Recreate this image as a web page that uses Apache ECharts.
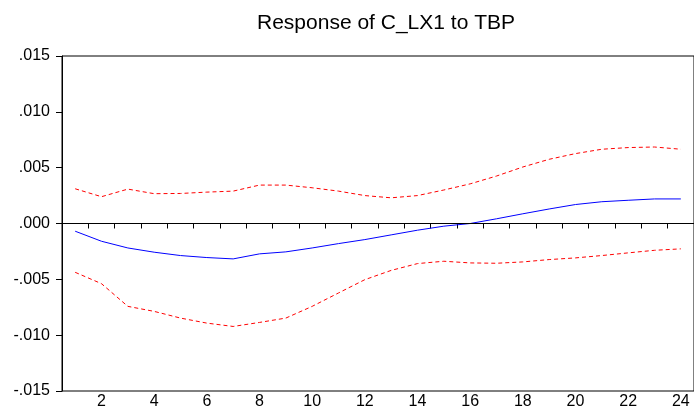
<!DOCTYPE html>
<html>
<head>
<meta charset="utf-8">
<script src="https://cdn.jsdelivr.net/npm/echarts@6/dist/echarts.min.js"></script>
<style>
  html, body { margin: 0; padding: 0; background: #fff; }
  #chart { width: 694px; height: 413px; }
</style>
</head>
<body>
<div id="chart"></div>
<script>
// periods 1..24
const periods = ['1', '2', '3', '4', '5', '6', '7', '8', '9', '10', '11', '12',
  '13', '14', '15', '16', '17', '18', '19', '20', '21', '22', '23', '24']
// impulse response (solid blue)
const response = [-0.00069, -0.00159, -0.00219, -0.00257, -0.00287, -0.00305, -0.00317, -0.00272,
  -0.00254, -0.00219, -0.00180, -0.00144, -0.00102, -0.00060, -0.00024, 0.00000,
  0.00042, 0.00087, 0.00130, 0.00170, 0.00195, 0.00208, 0.00220, 0.00220]
// +/- 2 S.E. bands (red dashed)
const upperBand = [0.00311, 0.00240, 0.00308, 0.00267, 0.00269, 0.00281, 0.00290, 0.00344,
  0.00344, 0.00320, 0.00290, 0.00250, 0.00230, 0.00250, 0.00300, 0.00355,
  0.00425, 0.00506, 0.00575, 0.00626, 0.00665, 0.00680, 0.00685, 0.00665]
const lowerBand = [-0.00437, -0.00539, -0.00742, -0.00787, -0.00847, -0.00892, -0.00922, -0.00886,
  -0.00847, -0.00742, -0.00622, -0.00503, -0.00420, -0.00359, -0.00338, -0.00353,
  -0.00356, -0.00344, -0.00323, -0.00308, -0.00287, -0.00263, -0.00240, -0.00227]

const chart = echarts.init(document.getElementById('chart'))
const font = 'Liberation Sans'

chart.setOption({
  animation: false,
  title: {
    text: 'Response of C_LX1 to TBP',
    left: 381,
    textAlign: 'center',
    top: 8,
    textStyle: { fontFamily: font, fontSize: 21, fontWeight: 'normal', color: '#000' }
  },
  grid: {
    left: 62, top: 56, right: -9, bottom: 22,
    show: true, borderColor: '#000', borderWidth: 1
  },
  xAxis: {
    type: 'category',
    data: periods,
    boundaryGap: true,
    axisLine: { lineStyle: { color: '#000', width: 1 } },
    axisTick: { show: true, inside: false, length: 5, interval: 0, lineStyle: { color: '#000' } },
    axisLabel: {
      interval: function(i) { return i % 2 === 1 },
      margin: 3,
      fontFamily: font, fontSize: 16, color: '#000'
    },
    splitLine: { show: false }
  },
  yAxis: {
    type: 'value',
    min: -0.015,
    max: 0.015,
    interval: 0.005,
    axisLine: { show: true, lineStyle: { color: '#000', width: 1 } },
    axisTick: { show: true, length: 6, lineStyle: { color: '#000' } },
    axisLabel: {
      margin: 12,
      fontFamily: font, fontSize: 16, color: '#000',
      formatter: function(v) {
        return v.toFixed(3).replace('0.', '.')
      }
    },
    splitLine: { show: false }
  },
  series: [
    {
      name: 'Response',
      type: 'line',
      data: response,
      symbol: 'none',
      lineStyle: { color: '#0000ff', width: 1 },
      markLine: {
        silent: true,
        symbol: 'none',
        label: { show: false },
        lineStyle: { color: '#000', width: 1, type: 'solid' },
        data: [{ yAxis: 0 }]
      }
    },
    {
      name: 'Upper',
      type: 'line',
      data: upperBand,
      symbol: 'none',
      lineStyle: { color: '#ff0000', width: 1, type: [4, 3] }
    },
    {
      name: 'Lower',
      type: 'line',
      data: lowerBand,
      symbol: 'none',
      lineStyle: { color: '#ff0000', width: 1, type: [4, 3] }
    }
  ]
})
</script>
</body>
</html>
